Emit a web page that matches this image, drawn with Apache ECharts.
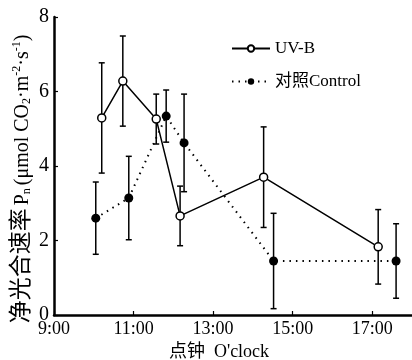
<!DOCTYPE html>
<html>
<head>
<meta charset="utf-8">
<script src="https://cdn.jsdelivr.net/npm/echarts@6/dist/echarts.min.js"></script>
<style>
  html, body { margin: 0; padding: 0; background: #fff; }
  #main { width: 412px; height: 360px; }
</style>
</head>
<body>
<div id="main"></div>
<script>
// 时间（小时）与净光合速率
var uvTimes = [10.2, 10.73, 11.57, 12.17, 14.27, 17.15];
var uvValues = [5.29, 6.28, 5.26, 2.66, 3.7, 1.83];
var uvErrors = [1.48, 1.21, 0.67, 0.8, 1.35, 1.0];

var ckTimes = [10.05, 10.88, 11.82, 12.27, 14.52, 17.6];
var ckValues = [2.6, 3.14, 5.34, 4.62, 1.45, 1.45];
var ckErrors = [0.97, 1.12, 0.7, 1.31, 1.28, 1.0];

var xTicks = [9, 11, 13, 15, 17];
var seriesNames = ['UV-B', '对照Control'];

var FONT = "'Liberation Serif', 'Noto Sans CJK SC', serif";

function pairs(times, vals) {
  return times.map(function (t, i) {
    return [t, vals[i]];
  });
}

// 误差线
function errorBars(times, vals, errs) {
  return {
    type: 'custom',
    silent: true,
    z: 1,
    encode: { x: 0, y: [1, 2] },
    data: times.map(function (t, i) {
      return [t, vals[i] - errs[i], vals[i] + errs[i]];
    }),
    renderItem: function (params, api) {
      var lo = api.coord([api.value(0), api.value(1)]);
      var hi = api.coord([api.value(0), api.value(2)]);
      var hw = 3;
      var st = { stroke: '#000', lineWidth: 1.5 };
      return {
        type: 'group',
        children: [
          { type: 'line', shape: { x1: lo[0], y1: lo[1], x2: hi[0], y2: hi[1] }, style: st },
          { type: 'line', shape: { x1: lo[0] - hw, y1: lo[1], x2: lo[0] + hw, y2: lo[1] }, style: st },
          { type: 'line', shape: { x1: hi[0] - hw, y1: hi[1], x2: hi[0] + hw, y2: hi[1] }, style: st },
        ],
      };
    },
  };
}

var chart = echarts.init(document.getElementById('main'));
var option = {
  animation: false,
  textStyle: { fontFamily: FONT, color: '#000' },
  grid: { left: 54, right: 0, top: 17, bottom: 45, outerBoundsMode: 'none', containLabel: false },
  legend: {
    data: seriesNames,
    orient: 'vertical',
    left: 226,
    top: 35,
    itemWidth: 38,
    itemHeight: 8,
    itemGap: 16,
    textStyle: { fontFamily: FONT, fontSize: 17, color: '#000' },
  },
  xAxis: {
    type: 'value',
    min: 9,
    max: 18,
    name: "点钟  O'clock",
    nameLocation: 'middle',
    nameGap: 26,
    nameTextStyle: { fontFamily: FONT, fontSize: 18, color: '#000', padding: [0, 28, 0, 0] },
    axisLine: { lineStyle: { color: '#000', width: 2.5 } },
    axisTick: { inside: true, length: 4, lineStyle: { width: 1.2 }, customValues: xTicks },
    splitLine: { show: false },
    axisLabel: {
      fontFamily: FONT,
      fontSize: 18,
      color: '#000',
      margin: 5,
      customValues: xTicks,
      formatter: function (v) {
        return v + ':00';
      },
    },
  },
  yAxis: {
    type: 'value',
    min: 0,
    max: 8,
    interval: 2,
    name:
      '{cn|净光合速率} {t|P}{sub|n} {t|(μmol CO}{sub|2}{t|·m}{sup|-2}{t|·s}{sup|-1}{t|)}',
    nameLocation: 'middle',
    nameRotate: 90,
    nameGap: 21,
    nameMoveOverlap: false,
    nameTextStyle: {
      padding: [0, 26, 0, 0],
      rich: {
        cn: { fontFamily: FONT, fontSize: 23, color: '#000', lineHeight: 26, verticalAlign: 'bottom' },
        t: { fontFamily: FONT, fontSize: 20, color: '#000', lineHeight: 26, verticalAlign: 'bottom' },
        sub: { fontFamily: FONT, fontSize: 12, color: '#000', lineHeight: 14, verticalAlign: 'bottom' },
        sup: { fontFamily: FONT, fontSize: 12, color: '#000', lineHeight: 12, verticalAlign: 'top', padding: [4, 0, 0, 0] },
      },
    },
    axisLine: { show: true, lineStyle: { color: '#000', width: 2.5 } },
    axisTick: { show: true, inside: true, length: 4, lineStyle: { width: 1.2 } },
    splitLine: { show: false },
    axisLabel: { fontFamily: FONT, fontSize: 20, color: '#000', margin: 5 },
  },
  series: [
    errorBars(uvTimes, uvValues, uvErrors),
    errorBars(ckTimes, ckValues, ckErrors),
    {
      name: seriesNames[1],
      type: 'line',
      z: 2,
      data: pairs(ckTimes, ckValues),
      symbol: 'circle',
      symbolSize: 9,
      itemStyle: { color: '#000' },
      lineStyle: { color: '#000', width: 2, type: [1.5, 5] },
    },
    {
      name: seriesNames[0],
      type: 'line',
      z: 3,
      data: pairs(uvTimes, uvValues),
      symbol: 'circle',
      symbolSize: 8,
      itemStyle: { color: '#fff', borderColor: '#000', borderWidth: 1.5 },
      lineStyle: { color: '#000', width: 1.5 },
    },
  ],
};
chart.setOption(option);
</script>
</body>
</html>
